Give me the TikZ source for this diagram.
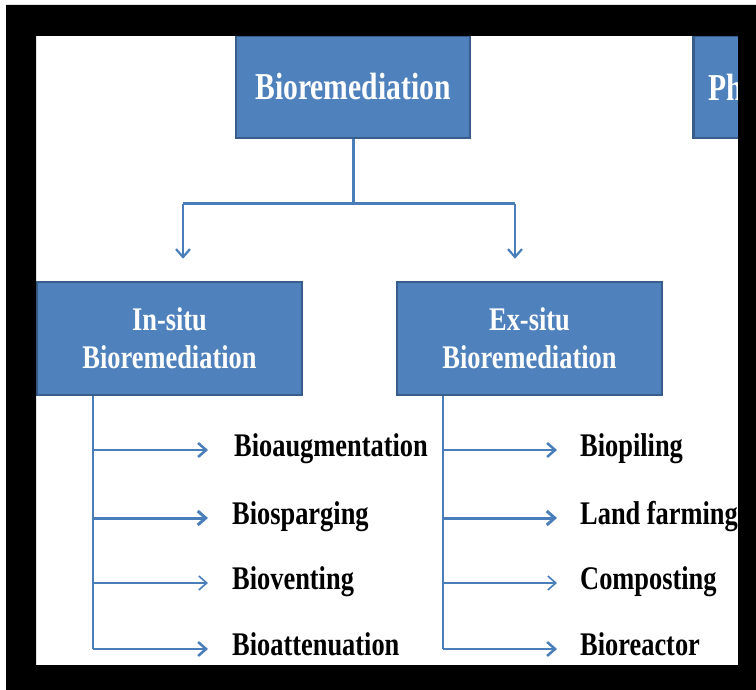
\documentclass[tikz,border=0pt]{standalone}
\usepackage{fontspec}
\usetikzlibrary{arrows.meta}
\newfontfamily\itemfont[FakeStretch=0.8]{Liberation Serif Bold}
\newfontfamily\titlefont[FakeStretch=0.78]{Liberation Serif Bold}
\definecolor{boxblue}{RGB}{79,129,189}
\definecolor{boxedge}{RGB}{56,93,138}
\definecolor{linecol}{RGB}{74,126,187}
\begin{document}
\begin{tikzpicture}[x=1pt,y=-1pt,
  box/.style={draw=boxedge, line width=2.5pt, fill=boxblue, text=white, align=center, inner sep=0pt},
  titletext/.style={font=\titlefont\fontsize{38}{44}\selectfont},
  itemtext/.style={font=\itemfont\fontsize{33}{38}\selectfont},
  item/.style={itemtext, text=black, inner sep=0pt, anchor=base west},
  conn/.style={draw=linecol, line width=3pt},
  trunk/.style={draw=linecol, line width=2.2pt},
  arr/.style={draw=linecol, -{Straight Barb[length=8pt, width=14pt]}},
  thick branch/.style={arr, line width=3pt},
  mid branch/.style={arr, line width=2.5pt},
  thin branch/.style={arr, line width=1.6pt}]
\useasboundingbox (0,0) rectangle (756,690);
\fill[white] (0,0) rectangle (756,690);

% boxes
\node[box, titletext, minimum width=234pt, minimum height=102pt] (bio) at (353,87) {Bioremediation};
\node[box, titletext, anchor=west, minimum height=102pt, text width=34pt, align=left, inner xsep=15pt] (ph) at (692,87) {Ph};
\node[box, itemtext, minimum width=265pt, minimum height=113pt] (insitu) at (169.5,338.5) {In-situ\\Bioremediation};
\node[box, itemtext, minimum width=265pt, minimum height=113pt] (exsitu) at (529.5,338.5) {Ex-situ\\Bioremediation};

% top connectors
\coordinate (hl) at (183,204);
\coordinate (hr) at (515,204);
\draw[conn] (bio.south) -- (bio.south |- hl);
\draw[conn] (hl) -- (hr);
\draw[arr, line width=2.2pt, shorten >=22pt] (hl) -- (hl |- insitu.north);
\draw[arr, line width=2.2pt, shorten >=22pt] (hr) -- (hr |- exsitu.north);

% in-situ items
\node[item] (i1) at (234,456) {Bioaugmentation};
\node[item] (i2) at (232,524) {Biosparging};
\node[item] (i3) at (232,589) {Bioventing};
\node[item] (i4) at (232,655) {Bioattenuation};
\coordinate (s1) at (93,450);
\coordinate (s2) at (93,518);
\coordinate (s3) at (93,583);
\coordinate (s4) at (93,649);
\draw[trunk] (insitu.south -| s1) -- (s4);
\draw[mid branch, shorten >=26pt] (s1) -- (s1 -| i1.west);
\draw[thick branch, shorten >=24pt] (s2) -- (s2 -| i2.west);
\draw[thin branch, shorten >=24pt] (s3) -- (s3 -| i3.west);
\draw[mid branch, shorten >=24pt] (s4) -- (s4 -| i4.west);

% ex-situ items
\node[item] (x1) at (580,456) {Biopiling};
\node[item] (x2) at (580,524) {Land farming};
\node[item] (x3) at (580,589) {Composting};
\node[item] (x4) at (580,655) {Bioreactor};
\coordinate (r1) at (443,450);
\coordinate (r2) at (443,518);
\coordinate (r3) at (443,583);
\coordinate (r4) at (443,649);
\draw[trunk, line width=1.6pt] (exsitu.south -| r1) -- (r4);
\draw[mid branch, shorten >=23pt] (r1) -- (r1 -| x1.west);
\draw[thick branch, shorten >=23pt] (r2) -- (r2 -| x2.west);
\draw[thin branch, shorten >=23pt] (r3) -- (r3 -| x3.west);
\draw[mid branch, shorten >=23pt] (r4) -- (r4 -| x4.west);

% black frame
\fill[black, even odd rule] (6,5) rectangle (756,690) (36,36) rectangle (738,665);
\end{tikzpicture}
\end{document}
